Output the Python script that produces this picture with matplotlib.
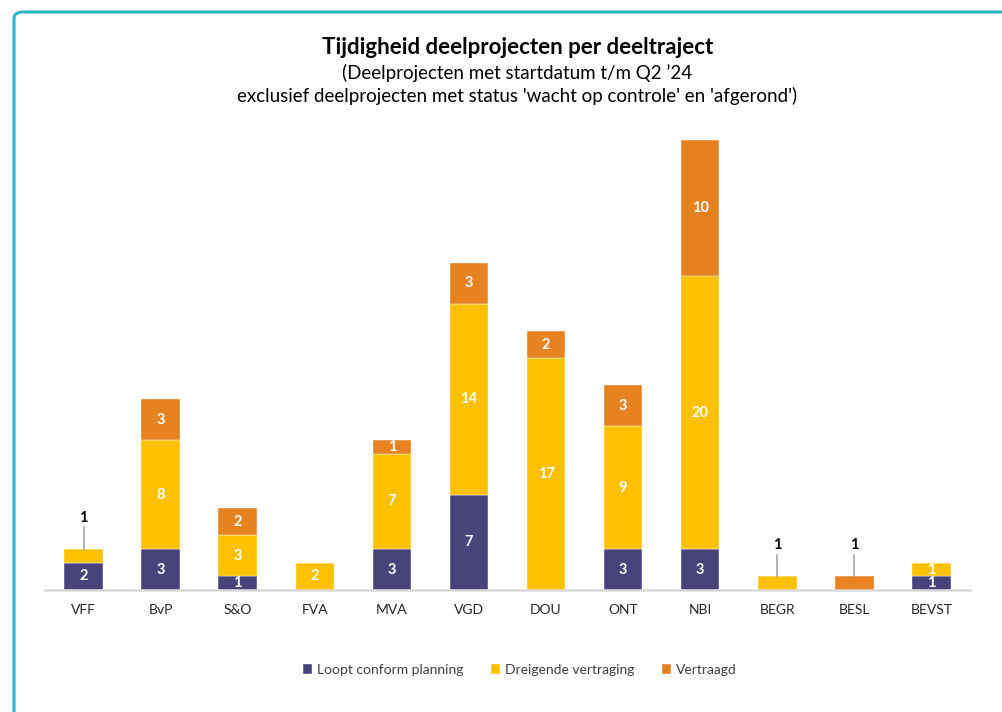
import numpy as np
import matplotlib.pyplot as plt
from matplotlib.patches import FancyBboxPatch

plt.rcParams['font.family'] = ['Lato', 'DejaVu Sans']

# data
categories = ['VFF', 'BvP', 'S&O', 'FVA', 'MVA', 'VGD', 'DOU', 'ONT', 'NBI', 'BEGR', 'BESL', 'BEVST']
loopt = [2, 3, 1, 0, 3, 7, 0, 3, 3, 0, 0, 1]
dreigend = [1, 8, 3, 2, 7, 14, 17, 9, 20, 1, 0, 1]
vertraagd = [0, 3, 2, 0, 1, 3, 2, 3, 10, 0, 1, 0]
series_names = ['Loopt conform planning', 'Dreigende vertraging', 'Vertraagd']
colors = ['#48437b', '#ffc000', '#e6821f']

# labels that sit above the bar with a leader line (category, series index)
callouts = {('VFF', 1), ('BEGR', 1), ('BESL', 2)}

fig = plt.figure(figsize=(10.03, 7.12), dpi=100)

# rounded teal frame, running off the right and bottom edge
frame = FancyBboxPatch((14/1003, -0.05), 1.05, 1 - 12/712 + 0.05,
                       boxstyle='round,pad=0,rounding_size=0.009',
                       transform=fig.transFigure, fill=False,
                       edgecolor='#2fb5c9', linewidth=2.2, clip_on=False)
fig.patches.append(frame)

ax = fig.add_axes([45/1003, 1 - 590/712, 925/1003, 463.6/712])

x = np.arange(len(categories))
data = [loopt, dreigend, vertraagd]
bottom = np.zeros(len(categories))
for i, vals in enumerate(data):
    vals = np.array(vals, dtype=float)
    ax.bar(x, vals, 0.5, bottom=bottom, color=colors[i], label=series_names[i],
           edgecolor='white', linewidth=0.3)
    for j, v in enumerate(vals):
        if v == 0:
            continue
        if (categories[j], i) in callouts:
            top = bottom[j] + v
            ax.plot([x[j], x[j]], [top, top + 1.6], color='#a6a6a6', lw=1.2)
            ax.text(x[j], top + 1.8, str(int(v)), ha='center', va='bottom',
                    fontsize=10.5, fontweight='bold', color='black')
        else:
            ax.text(x[j], bottom[j] + v / 2, str(int(v)), ha='center', va='center',
                    fontsize=10.5, fontweight='bold', color='white')
    bottom += vals

ax.set_xlim(-0.5, 11.5)
ax.set_ylim(0, 34)
ax.set_xticks(x)
ax.set_xticklabels(categories, fontsize=10, color='#262626')
ax.tick_params(axis='x', length=0, pad=10)
ax.set_yticks([])
for s in ['top', 'right', 'left']:
    ax.spines[s].set_visible(False)
ax.spines['bottom'].set_color('#d9d9d9')
ax.spines['bottom'].set_linewidth(1.8)

fig.text(0.516, 1 - 47/712, 'Tijdigheid deelprojecten per deeltraject',
         ha='center', va='center', fontsize=16, fontweight='bold', color='black')
fig.text(0.516, 1 - 73/712, "(Deelprojecten met startdatum t/m Q2 \u201924",
         ha='center', va='center', fontsize=13.5, color='black')
fig.text(0.516, 1 - 96/712, "exclusief deelprojecten met status 'wacht op controle' en 'afgerond')",
         ha='center', va='center', fontsize=13.5, color='black')

fig.legend(loc='center', bbox_to_anchor=(0.518, 1 - 670/712), ncol=3, frameon=False,
           fontsize=10, handlelength=0.7, handleheight=0.7, handletextpad=0.3,
           columnspacing=2.0, labelcolor='#404040')

fig.savefig('out.png', dpi=100)
